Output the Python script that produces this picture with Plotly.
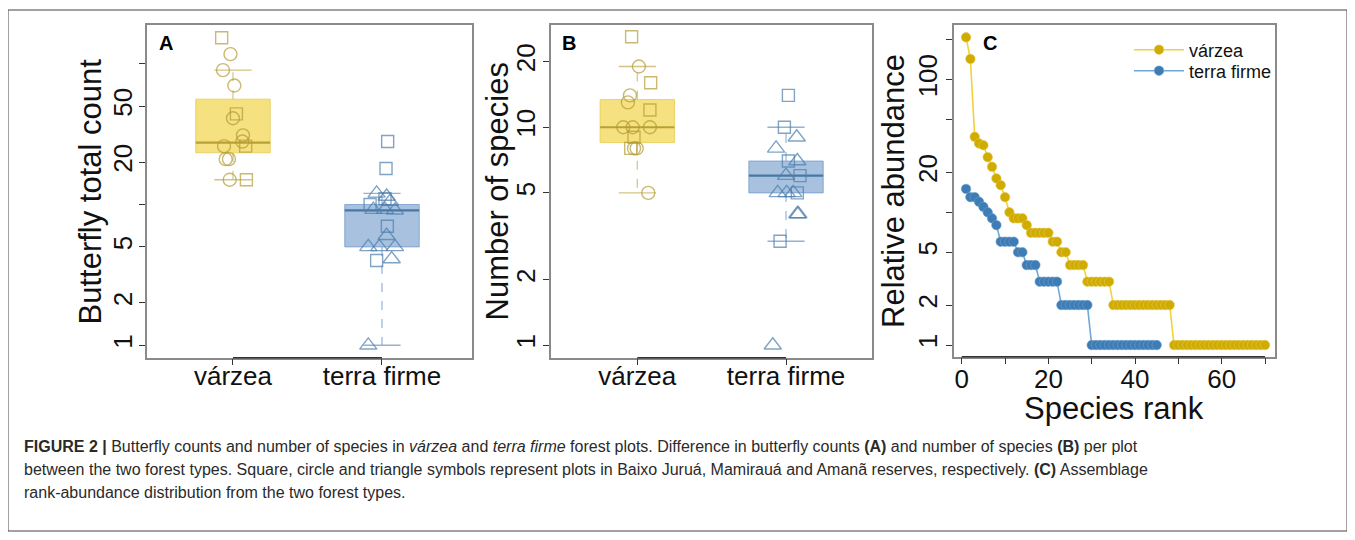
import plotly.graph_objects as go

# ---------------- data ----------------
groups = ["várzea", "terra firme"]
group_pos = [1, 2]

# Panel A: butterfly total count per plot (reserve: BJ=Baixo Juruá, MA=Mamirauá, AM=Amanã)
a_var_count = [153, 117, 90, 70, 44, 41, 31, 28, 26, 26, 21, 21, 15, 15]
a_var_reserve = ["BJ", "MA", "MA", "MA", "BJ", "MA", "MA", "MA", "BJ", "MA", "MA", "MA", "MA", "BJ"]
a_var_jitter = [-0.076, -0.017, -0.067, 0.009, 0.023, 0.0, 0.067, 0.063, 0.085, -0.06, -0.049, -0.027, -0.022, 0.09]

a_tf_count = [28, 18, 12, 11.4, 11, 10.5, 10, 9.2, 9.2, 9.1, 7, 6, 5, 5, 5, 4, 4.1, 1]
a_tf_reserve = ["BJ", "BJ", "AM", "AM", "BJ", "AM", "BJ", "AM", "AM", "AM", "BJ", "AM", "AM", "AM", "AM", "BJ", "AM", "AM"]
a_tf_jitter = [0.038, 0.027, -0.036, 0.031, 0.02, 0.054, -0.08, -0.058, 0.02, 0.087, 0.036, 0.031, 0.087, -0.092, -0.018, -0.036, 0.065, -0.092]

a_q1 = [23.3, 5.0]
a_med = [27.5, 9.1]
a_q3 = [56.0, 10.0]
a_lo = [15.0, 1.0]
a_hi = [90.0, 12.0]

# Panel B: number of species per plot
b_var_count = [26, 19, 16, 14, 13, 12, 10, 10, 10, 9, 8, 8, 8, 5]
b_var_reserve = ["BJ", "MA", "BJ", "MA", "MA", "BJ", "MA", "MA", "MA", "BJ", "MA", "MA", "BJ", "MA"]
b_var_jitter = [-0.038, 0.011, 0.09, -0.049, -0.063, 0.085, -0.094, -0.031, 0.085, -0.022, -0.004, -0.022, -0.044, 0.074]

b_tf_count = [14, 10, 9, 8, 7, 7, 6, 6, 5, 5, 5, 5, 4, 4, 3, 1]
b_tf_reserve = ["BJ", "BJ", "AM", "AM", "BJ", "AM", "AM", "BJ", "AM", "AM", "AM", "BJ", "AM", "AM", "BJ", "AM"]
b_tf_jitter = [0.016, -0.011, 0.072, -0.067, 0.016, 0.076, 0.0, 0.094, -0.056, 0.004, 0.049, 0.076, 0.083, 0.076, -0.04, -0.089]

b_q1 = [8.5, 5.0]
b_med = [10.0, 6.0]
b_q3 = [13.4, 7.0]
b_lo = [5.0, 3.0]
b_hi = [19.0, 10.0]

# Panel C: rank-abundance
c_var_abund = [208, 143, 37, 33, 32, 26, 22, 18, 16, 13, 10, 9, 9, 9, 8, 7, 7, 7, 7, 7,
               6, 6, 5, 5, 4, 4, 4, 4, 3, 3, 3, 3, 3, 3, 2, 2, 2, 2, 2, 2,
               2, 2, 2, 2, 2, 2, 2, 2, 1, 1, 1, 1, 1, 1, 1, 1, 1, 1, 1, 1,
               1, 1, 1, 1, 1, 1, 1, 1, 1, 1]
c_tf_abund = [15, 13, 13, 12, 11, 10, 9, 8, 6, 6, 6, 6, 5, 5, 4, 4, 4, 3, 3, 3,
              3, 3, 2, 2, 2, 2, 2, 2, 2, 1, 1, 1, 1, 1, 1, 1, 1, 1, 1, 1,
              1, 1, 1, 1, 1]

a_ytickvals = [1, 2, 5, 10, 20, 50, 100]
a_yticktext = ["1", "2", "5", "", "20", "50", ""]
b_ytickvals = [1, 2, 5, 10, 20]
b_yticktext = ["1", "2", "5", "10", "20"]
c_ytickvals = [1, 2, 5, 10, 20, 50, 100, 200]
c_yticktext = ["1", "2", "5", "", "20", "", "100", ""]
c_xtickvals = [0, 10, 20, 30, 40, 50, 60, 70]
c_xticktext = ["0", "", "20", "", "40", "", "60", ""]

caption_lines = [
    "<b>FIGURE 2 |</b> Butterfly counts and number of species in <i>várzea</i> and <i>terra firme</i> forest plots. "
    "Difference in butterfly counts <b>(A)</b> and number of species <b>(B)</b> per plot",
    "between the two forest types. Square, circle and triangle symbols represent plots in Baixo Juruá, "
    "Mamirauá and Amanã reserves, respectively. <b>(C)</b> Assemblage",
    "rank-abundance distribution from the two forest types.",
]

# ---------------- style ----------------
OFF = 8                      # page body margin of the html page
W, H = 1355 - OFF, 540 - OFF
FONT = "Liberation Sans, Arial, Helvetica, sans-serif"
symbol_map = {"BJ": "square-open", "MA": "circle-open", "AM": "triangle-up-open"}
size_map = {"BJ": 12, "MA": 13, "AM": 15}

col = {
    "var_fill": "rgba(242,214,80,0.72)", "var_edge": "rgba(230,200,70,0.9)", "var_med": "#B9A036",
    "var_whisk": "rgba(205,185,110,0.85)", "var_pt": "#B49B34",
    "tf_fill": "rgba(120,160,205,0.65)", "tf_edge": "rgba(110,150,200,0.9)", "tf_med": "#4A77A3",
    "tf_whisk": "rgba(130,165,205,0.85)", "tf_pt": "#4C7DAD",
    "var_line": "#F2D23C", "var_mk": "#D0AB00", "tf_line": "#6FA7D8", "tf_mk": "#3D7CB4",
}

def px_x(p):
    return (p - OFF) / W

def px_y(p):
    return 1 - (p - OFF) / H

fig = go.Figure()

def add_boxes(xa, ya, q1, med, q3, lo, hi):
    keys = ["var", "tf"]
    for i, pos in enumerate(group_pos):
        k = keys[i]
        hw, cw = 0.25, 0.125
        fig.add_trace(go.Scatter(
            x=[pos - hw, pos + hw, pos + hw, pos - hw, pos - hw],
            y=[q1[i], q1[i], q3[i], q3[i], q1[i]],
            mode="lines", fill="toself", fillcolor=col[k + "_fill"],
            line=dict(color=col[k + "_edge"], width=0.8),
            xaxis=xa, yaxis=ya, showlegend=False, hoverinfo="skip"))
        fig.add_trace(go.Scatter(
            x=[pos - hw, pos + hw], y=[med[i], med[i]], mode="lines",
            line=dict(color=col[k + "_med"], width=2.2),
            xaxis=xa, yaxis=ya, showlegend=False, hoverinfo="skip"))
        fig.add_trace(go.Scatter(
            x=[pos, pos, None, pos, pos], y=[q3[i], hi[i], None, q1[i], lo[i]], mode="lines",
            line=dict(color=col[k + "_whisk"], width=1.2, dash="dash"),
            xaxis=xa, yaxis=ya, showlegend=False, hoverinfo="skip"))
        fig.add_trace(go.Scatter(
            x=[pos - cw, pos + cw, None, pos - cw, pos + cw], y=[hi[i], hi[i], None, lo[i], lo[i]],
            mode="lines", line=dict(color=col[k + "_whisk"], width=1.4),
            xaxis=xa, yaxis=ya, showlegend=False, hoverinfo="skip"))

def add_points(xa, ya, pos, counts, reserves, jitter, color):
    fig.add_trace(go.Scatter(
        x=[pos + j for j in jitter], y=counts, mode="markers",
        marker=dict(symbol=[symbol_map[r] for r in reserves],
                    size=[size_map[r] for r in reserves],
                    color=color, line=dict(width=1.4, color=color)),
        xaxis=xa, yaxis=ya, showlegend=False, hoverinfo="skip"))

add_boxes("x", "y", a_q1, a_med, a_q3, a_lo, a_hi)
add_points("x", "y", group_pos[0], a_var_count, a_var_reserve, a_var_jitter, col["var_pt"])
add_points("x", "y", group_pos[1], a_tf_count, a_tf_reserve, a_tf_jitter, col["tf_pt"])

add_boxes("x2", "y2", b_q1, b_med, b_q3, b_lo, b_hi)
add_points("x2", "y2", group_pos[0], b_var_count, b_var_reserve, b_var_jitter, col["var_pt"])
add_points("x2", "y2", group_pos[1], b_tf_count, b_tf_reserve, b_tf_jitter, col["tf_pt"])

fig.add_trace(go.Scatter(
    x=list(range(1, len(c_var_abund) + 1)), y=c_var_abund, mode="lines+markers", name=groups[0],
    line=dict(color=col["var_line"], width=1.6),
    marker=dict(color=col["var_mk"], size=9.5, line=dict(width=0.6, color="#E3C850")),
    xaxis="x3", yaxis="y3", legend="legend"))
fig.add_trace(go.Scatter(
    x=list(range(1, len(c_tf_abund) + 1)), y=c_tf_abund, mode="lines+markers", name=groups[1],
    line=dict(color=col["tf_line"], width=1.6),
    marker=dict(color=col["tf_mk"], size=9.5, line=dict(width=0.6, color="#6E9FCC")),
    xaxis="x3", yaxis="y3", legend="legend2"))

axis_common = dict(showline=True, mirror=True, linecolor="#8a8a8a", linewidth=1.5,
                   showgrid=False, zeroline=False, ticks="outside", ticklen=6,
                   tickcolor="#333", tickwidth=1.2, automargin=False,
                   tickfont=dict(family=FONT, size=26, color="#111"))

legend_common = dict(xanchor="left", yanchor="middle", bgcolor="rgba(0,0,0,0)",
                     font=dict(family=FONT, size=18, color="#111"), itemwidth=50)

y_dom = [px_y(357.7), px_y(25)]
fig.update_layout(
    template="none",
    width=W, height=H, margin=dict(l=0, r=0, t=0, b=0, autoexpand=False),
    paper_bgcolor="white", plot_bgcolor="white",
    font=dict(family=FONT, color="#111"),
    xaxis=dict(domain=[px_x(147), px_x(471.7)], range=[0.423, 2.602],
               tickvals=group_pos, ticktext=groups, anchor="y", ticklabelstandoff=-12, **axis_common),
    yaxis=dict(domain=y_dom, type="log", range=[-0.088, 2.275], anchor="x",
               tickvals=a_ytickvals, ticktext=a_yticktext, tickangle=-90, ticklabelstandoff=-3, **axis_common),
    xaxis2=dict(domain=[px_x(551), px_x(872)], range=[0.42, 2.578],
                tickvals=group_pos, ticktext=groups, anchor="y2", ticklabelstandoff=-12, **axis_common),
    yaxis2=dict(domain=y_dom, type="log", range=[-0.057, 1.469], anchor="x2",
                tickvals=b_ytickvals, ticktext=b_yticktext, tickangle=-90, ticklabelstandoff=-2, **axis_common),
    xaxis3=dict(domain=[px_x(954), px_x(1275)], range=[-1.78, 72.3],
                tickvals=c_xtickvals, ticktext=c_xticktext, anchor="y3", ticklabelstandoff=-8, **axis_common),
    yaxis3=dict(domain=[px_y(356.7), px_y(25)], type="log", range=[-0.088, 2.411], anchor="x3",
                tickvals=c_ytickvals, ticktext=c_yticktext, tickangle=-90, ticklabelstandoff=-1, **axis_common),
    legend=dict(x=px_x(1129), y=px_y(50), **legend_common),
    legend2=dict(x=px_x(1129), y=px_y(71), **legend_common),
    showlegend=True,
)

# darker axis segments between first and last tick (R style)
for xr, yr, x0, x1 in [("x", "y domain", group_pos[0], group_pos[-1]),
                       ("x2", "y2 domain", group_pos[0], group_pos[-1]),
                       ("x3", "y3 domain", c_xtickvals[0], c_xtickvals[-1])]:
    fig.add_shape(type="line", xref=xr, yref=yr, x0=x0, x1=x1, y0=0, y1=0,
                  line=dict(color="#333", width=1.6))

# outer frame
fig.add_shape(type="rect", xref="paper", yref="paper", x0=px_x(8), x1=px_x(1347),
              y0=px_y(531), y1=px_y(10), line=dict(color="#444", width=1))

# axis titles
title_font = dict(family=FONT, size=31, color="#111")
for txt, xp, yp, ang in [("Butterfly total count", 90, 191.5, -90),
                         ("Number of species", 497, 191.5, -90),
                         ("Relative abundance", 893, 191, -90),
                         ("Species rank", 1114, 408, 0)]:
    fig.add_annotation(text=txt, x=px_x(xp), y=px_y(yp), xref="paper", yref="paper",
                       xanchor="center", yanchor="middle", textangle=ang, showarrow=False,
                       font=title_font)

# panel letters
for letter, xp in [("A", 166), ("B", 569), ("C", 990)]:
    fig.add_annotation(text="<b>%s</b>" % letter, x=px_x(xp), y=px_y(43.5), xref="paper", yref="paper",
                       xanchor="center", yanchor="middle", showarrow=False,
                       font=dict(family=FONT, size=20, color="#000"))

# caption
for line, yp in zip(caption_lines, [446, 469, 492]):
    fig.add_annotation(text=line, x=px_x(22), y=px_y(yp), xref="paper", yref="paper",
                       xanchor="left", yanchor="middle", showarrow=False,
                       font=dict(family=FONT, size=16, color="#2a2a2a"))

fig.write_html("out.html")
